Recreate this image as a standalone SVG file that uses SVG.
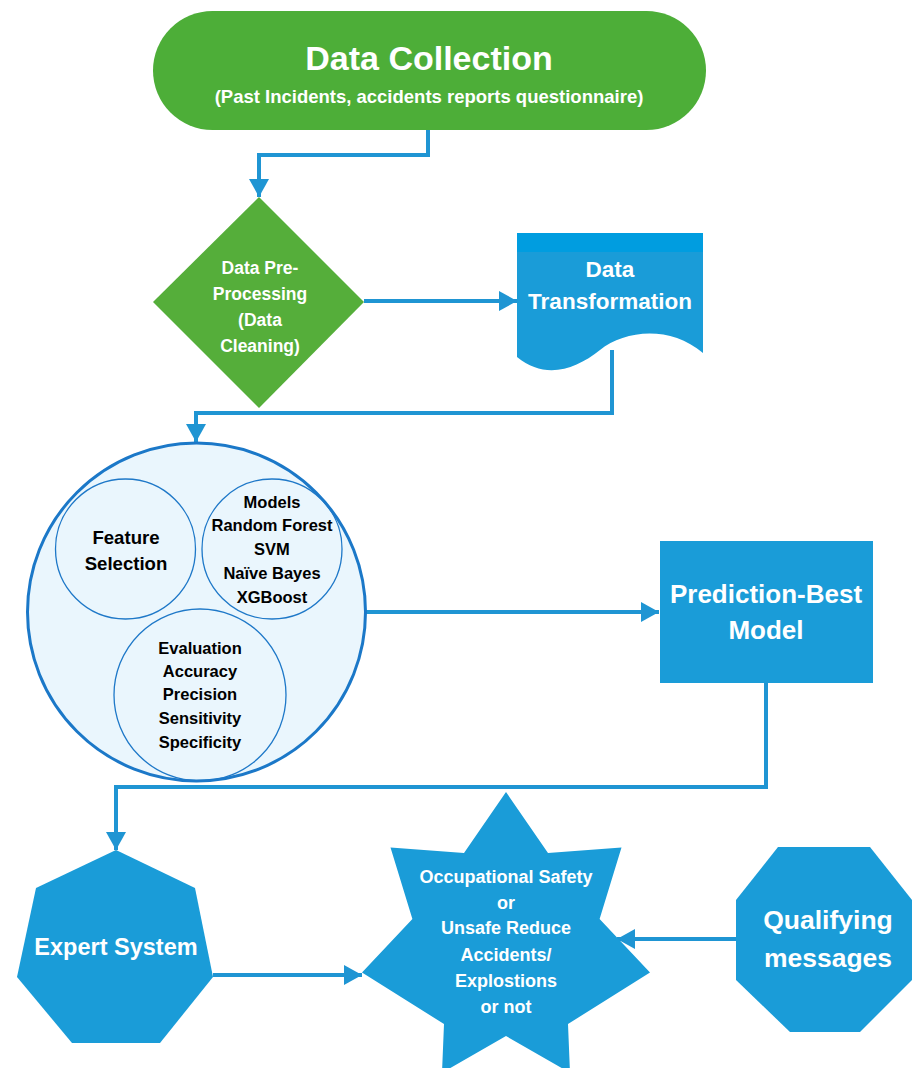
<svg xmlns="http://www.w3.org/2000/svg" width="917" height="1068" viewBox="0 0 917 1068">
<defs>
<marker id="ah" markerUnits="userSpaceOnUse" markerWidth="20" markerHeight="20" refX="18" refY="10" orient="auto">
<path d="M0,0 L18,10 L0,20 Z" fill="#1F95D3"/>
</marker>
<style>
.t{font-family:"Liberation Sans",Arial,sans-serif;font-weight:bold;text-anchor:middle;dominant-baseline:central}
.w{fill:#ffffff}
.k{fill:#000000}
.blue{fill:#1A9CD8}
.green{fill:#4DAE38}
.conn{fill:none;stroke:#1F95D3;stroke-width:4;stroke-linejoin:miter}
.inner{fill:none;stroke:#1E78C8;stroke-width:1.3}
</style>
</defs>
<rect width="917" height="1068" fill="#ffffff"/>
<g id="connectors">
<path class="conn" d="M428,130 V155 H259 V197" marker-end="url(#ah)"/>
<path class="conn" d="M364,301 H517" marker-end="url(#ah)"/>
<path class="conn" d="M612,350 V413 H196 V442" marker-end="url(#ah)"/>
<path class="conn" d="M366,612 H659" marker-end="url(#ah)"/>
<path class="conn" d="M766,683 V787 H116 V850" marker-end="url(#ah)"/>
<path class="conn" d="M213,975 H362" marker-end="url(#ah)"/>
<path class="conn" d="M736,939 H617" marker-end="url(#ah)"/>
</g>
<g id="data-collection">
<rect x="153" y="11" width="553" height="119" rx="59.5" ry="59.5" class="green"/>
<text class="t w" x="429" y="58" font-size="34">Data Collection</text>
<text class="t w" x="429" y="96" font-size="18.5">(Past Incidents, accidents reports questionnaire)</text>
</g>
<g id="data-preprocessing">
<polygon points="259,197 364,302 259,408 153,302" fill="#55AE3A"/>
<text class="t w" font-size="17.5"><tspan x="260" y="268">Data Pre-</tspan><tspan x="260" y="294">Processing</tspan><tspan x="260" y="320">(Data</tspan><tspan x="260" y="346">Cleaning)</tspan></text>
</g>
<g id="data-transformation">
<path class="blue" d="M517,233 H703 V353 C670,325 625,330 600,350 C575,370 545,380 517,357 Z"/>
<rect x="517" y="233" width="186" height="19" fill="#009DE0"/>
<text class="t w" font-size="22.5"><tspan x="610" y="269">Data</tspan><tspan x="610" y="301">Transformation</tspan></text>
</g>
<g id="modeling">
<circle cx="196.5" cy="612" r="169" fill="#EAF6FD" stroke="#1B78C8" stroke-width="3"/>
<circle class="inner" cx="125.5" cy="549" r="70"/>
<circle class="inner" cx="272" cy="549" r="70"/>
<circle class="inner" cx="200" cy="695" r="86"/>
<text class="t k" font-size="18.6"><tspan x="126" y="537">Feature</tspan><tspan x="126" y="563">Selection</tspan></text>
<text class="t k" font-size="16.5"><tspan x="272" y="502">Models</tspan><tspan x="272" y="525">Random Forest</tspan><tspan x="272" y="549">SVM</tspan><tspan x="272" y="573">Naïve Bayes</tspan><tspan x="272" y="597">XGBoost</tspan></text>
<text class="t k" font-size="16.5"><tspan x="200" y="648">Evaluation</tspan><tspan x="200" y="671">Accuracy</tspan><tspan x="200" y="694">Precision</tspan><tspan x="200" y="718">Sensitivity</tspan><tspan x="200" y="742">Specificity</tspan></text>
</g>
<g id="prediction-best-model">
<rect x="660" y="541" width="213" height="142" class="blue"/>
<text class="t w" font-size="26"><tspan x="766" y="594">Prediction-Best</tspan><tspan x="766" y="630">Model</tspan></text>
</g>
<g id="expert-system">
<polygon class="blue" points="116,850 195,888 213,977 160,1043 72,1043 17,977 36,888"/>
<text class="t w" x="116" y="947" font-size="23.5">Expert System</text>
</g>
<g id="occupational-safety">
<polygon class="blue" points="506,792 548,853 621.5,847.6 599.6,919 650,972.6 568,1024 570,1072.8 506,1036 442,1072.8 444,1024 362,972.6 412.4,919 390.5,847.6 464,853"/>
<text class="t w" font-size="18"><tspan x="506" y="877">Occupational Safety</tspan><tspan x="506" y="903">or</tspan><tspan x="506" y="928">Unsafe Reduce</tspan><tspan x="506" y="955">Accidents/</tspan><tspan x="506" y="981">Explostions</tspan><tspan x="506" y="1007">or not</tspan></text>
</g>
<g id="qualifying-messages">
<polygon class="blue" points="778,847 870,847 912,900 912,980 860,1032 790,1032 736,980 736,900"/>
<text class="t w" font-size="26.5"><tspan x="828" y="920">Qualifying</tspan><tspan x="828" y="958">messages</tspan></text>
</g>
</svg>
